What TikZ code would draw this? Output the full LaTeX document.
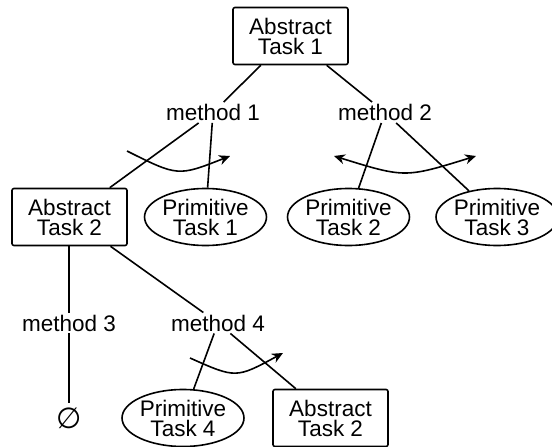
\documentclass[tikz,border=0pt]{standalone}
\usepackage{fontspec}
\setmainfont{Liberation Sans}
\newfontfamily\symfont{DejaVu Sans}
\usetikzlibrary{shapes.geometric,arrows.meta}
\begin{document}
\begin{tikzpicture}[x=1pt,y=-1pt,
  every node/.style={font=\fontsize{22.5}{20}\selectfont, align=center},
  absbox/.style={draw, line width=1.6pt, rounded corners=2pt, minimum width=115pt, minimum height=57pt, inner sep=0pt},
  primell/.style={draw, ellipse, line width=1.6pt, minimum width=115pt, minimum height=57pt, inner sep=0pt},
  meth/.style={inner sep=2pt},
  conn/.style={line width=1.6pt},
  swing/.style={line width=1.6pt, -{Stealth[length=11pt,width=10pt]}},
  swing2/.style={line width=1.6pt, {Stealth[length=11pt,width=10pt]}-{Stealth[length=11pt,width=10pt]}}
]
\useasboundingbox (0,0) rectangle (552,447);
% nodes
\node[absbox] (at1) at (290.5,36) {Abstract\\Task 1};
\node[meth] (m1) at (213,112.5) {method 1};
\node[meth] (m2) at (385,112.5) {method 2};
\node[absbox] (at2) at (69.5,217) {Abstract\\Task 2};
\node[primell] (pt1) at (205.5,217) {Primitive\\Task 1};
\node[primell] (pt2) at (348.5,217) {Primitive\\Task 2};
\node[primell, minimum width=110pt] (pt3) at (497,217) {Primitive\\Task 3};
\node[meth] (m3) at (69,323) {method 3};
\node[meth] (m4) at (218,323) {method 4};
\node[inner sep=4pt, font=\fontsize{29}{29}\selectfont] (empty) at (69,418) {\symfont ∅};
\node[primell] (pt4) at (183,418) {Primitive\\Task 4};
\node[absbox] (at2b) at (330.5,418) {Abstract\\Task 2};
% connectors
\draw[conn] (at1) -- (m1);
\draw[conn] (at1) -- (m2);
\draw[conn] (m1) -- (at2);
\draw[conn] (m1) -- (pt1);
\draw[conn] (m2) -- (pt2);
\draw[conn] (m2) -- (pt3);
\draw[conn] (at2.south -| m3) -- (m3);
\draw[conn] (m3) -- (empty);
\draw[conn] (at2) -- (m4);
\draw[conn] (m4) -- (pt4);
\draw[conn] (m4) -- (at2b);
% ordering arrows
\coordinate (a1s) at (127,151);
\coordinate (a1e) at (230,156);
\draw[swing] (a1s) .. controls (178,176.5) .. (a1e);
\coordinate (a2s) at (334,156);
\coordinate (a2e) at (476,156);
\draw[swing2] (a2s) .. controls (405,178) .. (a2e);
\coordinate (a4s) at (190,358);
\coordinate (a4e) at (283,353);
\draw[swing] (a4s) .. controls (236,378.5) .. (a4e);
\end{tikzpicture}
\end{document}
